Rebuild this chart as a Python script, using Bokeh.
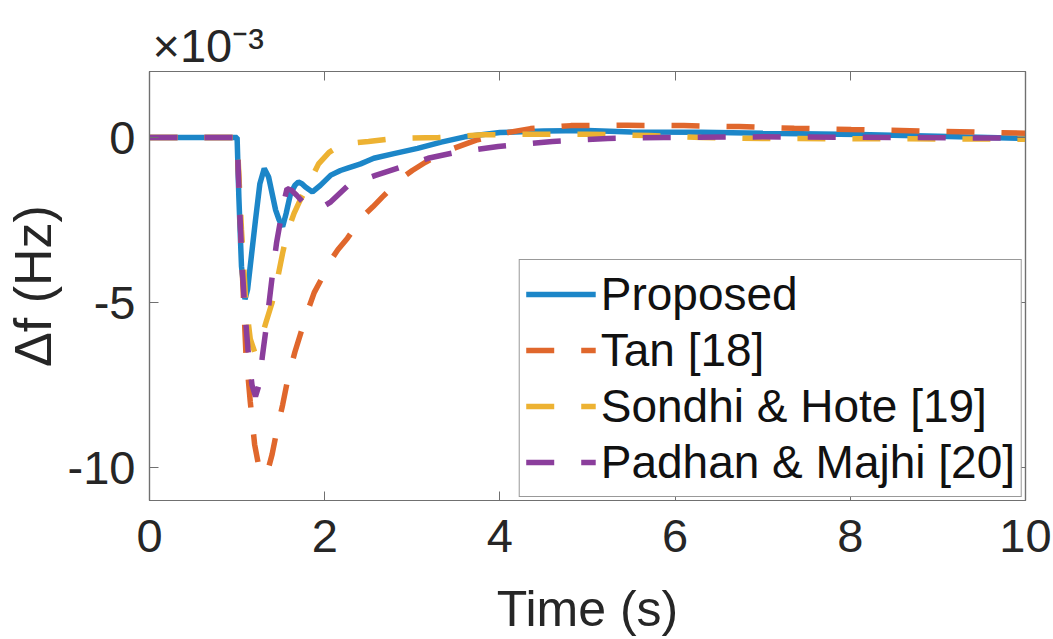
from bokeh.plotting import figure
from bokeh.models import (Legend, LegendItem, LinearAxis, FixedTicker, Range1d)
from bokeh.embed import file_html
from bokeh.resources import INLINE

# ---- data (values in units of 1e-3 Hz) ----
t_proposed = [0, 1.0, 1.02, 1.05, 1.09, 1.12, 1.15, 1.21, 1.26, 1.31, 1.36, 1.40, 1.44,
              1.48, 1.52, 1.56, 1.61, 1.66, 1.70, 1.74, 1.78, 1.86, 1.95, 2.07, 2.18,
              2.27, 2.35, 2.41, 2.48, 2.56, 2.79, 3.06, 3.33, 3.6, 4.0, 4.5, 5.0, 5.5,
              6.3, 7.0, 8.1, 9.0, 10.0]
df_proposed = [0, 0, -1.8, -3.9, -4.9, -4.6, -3.9, -2.5, -1.4, -0.94, -1.2, -1.7, -2.2,
               -2.5, -2.7, -2.3, -1.7, -1.45, -1.35, -1.4, -1.5, -1.65, -1.45, -1.14, -1.0,
               -0.92, -0.85, -0.80, -0.72, -0.63, -0.49, -0.33, -0.14, 0.02, 0.15, 0.2, 0.21,
               0.17, 0.16, 0.13, 0.09, 0.04, -0.03]

t_tan = [0, 1.0, 1.05, 1.10, 1.15, 1.20, 1.25, 1.30, 1.35, 1.40, 1.46, 1.52, 1.58, 1.66,
         1.73, 1.80, 1.88, 1.96, 2.05, 2.15, 2.26, 2.43, 2.55, 2.66, 2.87, 3.0, 3.15, 3.42,
         3.73, 4.09, 4.35, 4.81, 5.46, 6.1, 6.73, 7.36, 8.01, 9.0, 10.0]
df_tan = [0, 0, -3.5, -6.5, -8.0, -9.3, -10.0, -10.25, -10.1, -9.6, -8.8, -8.1, -7.3, -6.5,
          -5.9, -5.3, -4.7, -4.3, -3.8, -3.4, -3.05, -2.4, -2.1, -1.8, -1.25, -1.0, -0.75,
          -0.38, -0.08, 0.15, 0.27, 0.36, 0.37, 0.36, 0.33, 0.28, 0.24, 0.19, 0.13]

t_sondhi = [0, 1.0, 1.05, 1.10, 1.15, 1.20, 1.25, 1.33, 1.40, 1.46, 1.52, 1.57, 1.65, 1.72,
            1.80, 1.93, 2.05, 2.2, 2.5, 2.8, 3.3, 3.8, 4.4, 5.0, 5.7, 6.3, 7.0, 8.5, 10.0]
df_sondhi = [0, 0, -2.8, -5.0, -6.1, -6.5, -6.3, -5.6, -5.0, -4.3, -3.5, -2.9, -2.3, -1.9,
             -1.5, -0.8, -0.45, -0.2, -0.12, -0.03, 0.0, 0.08, 0.1, 0.1, 0.06, 0.0, -0.03,
             -0.04, -0.05]

t_padhan = [0, 1.0, 1.03, 1.06, 1.09, 1.13, 1.17, 1.21, 1.25, 1.29, 1.33, 1.37, 1.41, 1.45,
            1.49, 1.53, 1.57, 1.62, 1.68, 1.75, 1.82, 1.9, 1.98, 2.07, 2.17, 2.27, 2.42,
            2.58, 2.87, 3.18, 3.5, 3.98, 4.6, 5.23, 5.87, 7.0, 8.5, 10.0]
df_padhan = [0, 0, -2.2, -4.0, -5.3, -6.6, -7.5, -7.85, -7.5, -6.6, -5.8, -4.9, -4.0, -3.2,
             -2.6, -2.0, -1.55, -1.6, -1.75, -1.95, -2.1, -2.15, -2.1, -1.95, -1.7, -1.45,
             -1.3, -1.15, -0.9, -0.63, -0.45, -0.27, -0.12, -0.03, 0.0, 0.02, 0.0, -0.02]

series_names = ["Proposed", "Tan [18]", "Sondhi & Hote [19]", "Padhan & Majhi [20]"]
x_ticks = [0, 2, 4, 6, 8, 10]
y_ticks = [-10, -5, 0]
y_tick_labels = ["-10", "-5", "0"]
scale_label = "×10⁻³"

FONT = "Liberation Sans"
TXT = "#262626"
AX = "#707070"

p = figure(width=1053, height=639, x_range=Range1d(0, 10), y_range=Range1d(-11, 2),
           output_backend="svg", toolbar_location=None,
           min_border_left=149, min_border_right=28, min_border_top=71, min_border_bottom=137)
p.background_fill_color = "white"
p.border_fill_color = "white"
p.outline_line_color = AX
p.outline_line_width = 1.2
p.xgrid.visible = False
p.ygrid.visible = False

colors = ["#1C86C8", "#E0672C", "#EDB232", "#8B3E9C"]
r_prop = p.line(t_proposed, df_proposed, line_color=colors[0], line_width=5.5)
r_tan = p.line(t_tan, df_tan, line_color=colors[1], line_width=5.5, line_dash="28 27")
r_son = p.line(t_sondhi, df_sondhi, line_color=colors[2], line_width=5.5, line_dash="28 27")
r_pad = p.line(t_padhan, df_padhan, line_color=colors[3], line_width=5.5, line_dash="28 27")


def style_axis(ax, ticks, show_labels, standoff):
    ax.ticker = FixedTicker(ticks=ticks)
    ax.minor_tick_line_color = None
    ax.major_tick_in = 9
    ax.major_tick_out = 0
    ax.major_tick_line_color = AX
    ax.axis_line_color = AX
    ax.axis_line_width = 1.2
    ax.major_label_text_font = FONT
    ax.major_label_text_color = TXT
    ax.major_label_standoff = standoff
    if show_labels:
        ax.major_label_text_font_size = "47px"
    else:
        ax.major_label_text_font_size = "0px"
        ax.major_label_text_alpha = 0


style_axis(p.xaxis[0], x_ticks, True, 19)
style_axis(p.yaxis[0], y_ticks, True, 14)
p.yaxis[0].major_label_overrides = dict(zip(y_ticks, y_tick_labels))
p.xaxis[0].axis_label = "Time (s)"
p.yaxis[0].axis_label = "Δf (Hz)"
for ax in (p.xaxis[0], p.yaxis[0]):
    ax.axis_label_text_font = FONT
    ax.axis_label_text_font_style = "normal"
    ax.axis_label_text_color = TXT
p.xaxis[0].axis_label_text_font_size = "50px"
p.yaxis[0].axis_label_text_font_size = "52px"
p.xaxis[0].axis_label_standoff = 26
p.yaxis[0].axis_label_standoff = 3

top_ax = LinearAxis()
style_axis(top_ax, x_ticks, False, 0)
p.add_layout(top_ax, "above")
right_ax = LinearAxis()
style_axis(right_ax, y_ticks, False, 0)
p.add_layout(right_ax, "right")

# exponent written as the title, left aligned
p.title.text = scale_label
p.title.align = "left"
p.title.offset = 3
p.title.standoff = 0
p.title.text_font = FONT
p.title.text_font_size = "47px"
p.title.text_font_style = "normal"
p.title.text_color = TXT

legend = Legend(items=[LegendItem(label=series_names[0], renderers=[r_prop]),
                       LegendItem(label=series_names[1], renderers=[r_tan]),
                       LegendItem(label=series_names[2], renderers=[r_son]),
                       LegendItem(label=series_names[3], renderers=[r_pad])],
                location="bottom_right")
legend.margin = 3
legend.padding = 6
legend.spacing = 0
legend.glyph_width = 70
legend.glyph_height = 56
legend.label_height = 56
legend.label_standoff = 5
legend.label_text_font = FONT
legend.label_text_font_size = "46px"
legend.label_text_color = "#111111"
legend.border_line_color = "#333333"
legend.border_line_width = 1.2
legend.background_fill_color = "white"
legend.background_fill_alpha = 1.0
p.add_layout(legend)

open("out.html", "w").write(file_html(p, INLINE))
